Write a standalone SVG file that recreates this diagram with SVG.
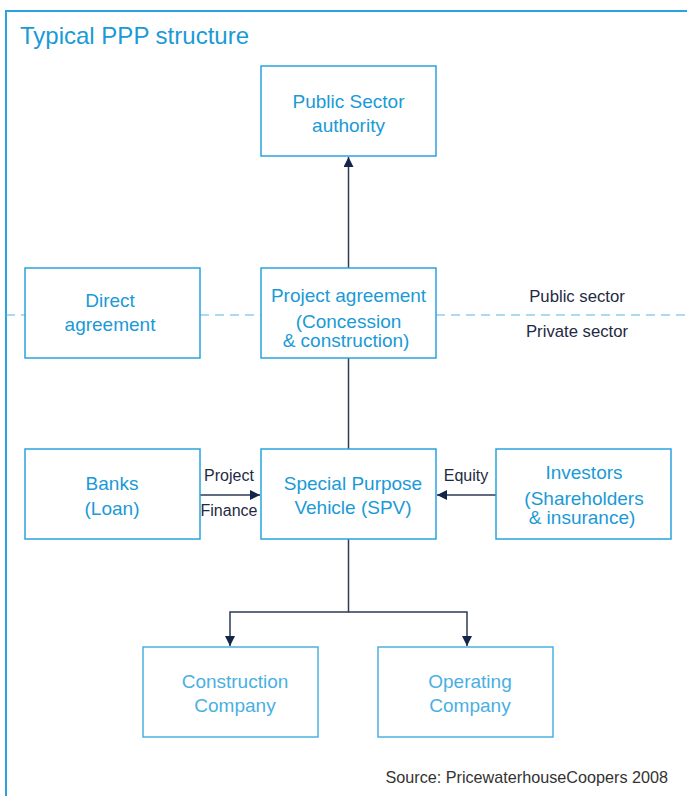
<svg xmlns="http://www.w3.org/2000/svg" width="687" height="796" viewBox="0 0 687 796">
  <defs>
    <marker id="arrow" viewBox="0 0 10 10" refX="10" refY="5" markerWidth="10" markerHeight="10" markerUnits="userSpaceOnUse" orient="auto">
      <path d="M0,0 L10,5 L0,10 z" fill="#13254a"/>
    </marker>
    <style>
      .frame { stroke: #29a3dd; stroke-width: 2; fill: none; }
      .box { fill: #ffffff; stroke: #29a3dd; stroke-width: 1.5; }
      .box.light { stroke: #4db0e2; }
      .t { font-family: "Liberation Sans", Arial, sans-serif; font-size: 19px; fill: #1a9ad6; text-anchor: middle; }
      .t.light { fill: #4aafe2; }
      .lbl { font-family: "Liberation Sans", Arial, sans-serif; font-size: 16px; fill: #1e2a44; text-anchor: middle; }
      .sector { font-size: 16.7px; }
      .edge { stroke: #2d3b57; stroke-width: 1.5; fill: none; }
      .dash { stroke: #5ab6e6; stroke-width: 1.2; stroke-dasharray: 9 6; fill: none; }
    </style>
  </defs>

  <rect width="687" height="796" fill="#ffffff"/>

  <!-- outer frame -->
  <path class="frame" d="M6,796 V11 H687"/>
  <text x="20" y="44" font-family="Liberation Sans, Arial, sans-serif" font-size="24" fill="#1a9ad6">Typical PPP structure</text>

  <!-- public / private boundary -->
  <g id="boundary">
    <path class="dash" d="M6,315 H25 M200,315 H261 M436,315 H687"/>
    <text class="lbl sector" x="577" y="302">Public sector</text>
    <text class="lbl sector" x="577" y="337">Private sector</text>
  </g>

  <!-- connectors -->
  <g id="connectors">
    <path class="edge" d="M348.5,268 V157" marker-end="url(#arrow)"/>
    <path class="edge" d="M348.5,358 V449"/>
    <path class="edge" d="M200,495 H260" marker-end="url(#arrow)"/>
    <path class="edge" d="M496,495 H437" marker-end="url(#arrow)"/>
    <path class="edge" d="M348.5,539 V612 H230 V646" marker-end="url(#arrow)"/>
    <path class="edge" d="M348.5,612 H467 V646" marker-end="url(#arrow)"/>
    <text class="lbl" x="229" y="481">Project</text>
    <text class="lbl" x="229" y="516">Finance</text>
    <text class="lbl" x="466" y="481">Equity</text>
  </g>

  <g id="public-sector">
    <rect class="box" x="261" y="66" width="175" height="90"/>
    <text class="t" x="348.5" y="108">Public Sector</text>
    <text class="t" x="348.5" y="132">authority</text>
  </g>

  <g id="direct-agreement">
    <rect class="box" x="25" y="268" width="175" height="90"/>
    <text class="t" x="110" y="307">Direct</text>
    <text class="t" x="110" y="331">agreement</text>
  </g>

  <g id="project-agreement">
    <rect class="box" x="261" y="268" width="175" height="90"/>
    <text class="t" x="348.5" y="302">Project agreement</text>
    <text class="t" x="348.5" y="328">(Concession</text>
    <text class="t" x="346" y="347">&amp; construction)</text>
  </g>

  <g id="banks">
    <rect class="box" x="25" y="449" width="175" height="90"/>
    <text class="t" x="112" y="490">Banks</text>
    <text class="t" x="112" y="515">(Loan)</text>
  </g>

  <g id="spv">
    <rect class="box" x="261" y="449" width="175" height="90"/>
    <text class="t" x="353" y="490">Special Purpose</text>
    <text class="t" x="353" y="514">Vehicle (SPV)</text>
  </g>

  <g id="investors">
    <rect class="box" x="496" y="449" width="175" height="90"/>
    <text class="t" x="584" y="479">Investors</text>
    <text class="t" x="584" y="505">(Shareholders</text>
    <text class="t" x="582" y="524">&amp; insurance)</text>
  </g>

  <g id="construction-company">
    <rect class="box light" x="143" y="647" width="175" height="90"/>
    <text class="t light" x="235" y="688">Construction</text>
    <text class="t light" x="235" y="712">Company</text>
  </g>

  <g id="operating-company">
    <rect class="box light" x="378" y="647" width="175" height="90"/>
    <text class="t light" x="470" y="688">Operating</text>
    <text class="t light" x="470" y="712">Company</text>
  </g>

  <text x="668" y="783" font-family="Liberation Sans, Arial, sans-serif" font-size="16.2" fill="#333333" text-anchor="end">Source: PricewaterhouseCoopers 2008</text>
</svg>
